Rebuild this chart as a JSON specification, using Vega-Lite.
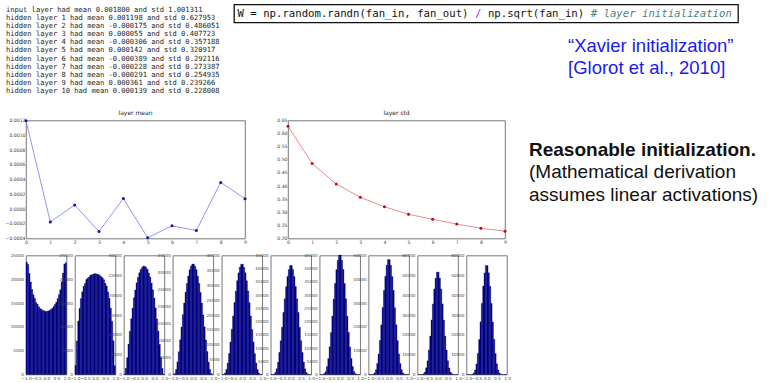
{
"$schema":"https://vega.github.io/schema/vega-lite/v6.json",
"padding":{"left":4,"top":3.5,"right":0,"bottom":0},
"background":"white",
"config":{
 "axis":{"domain":false,"ticks":false,"grid":false,"labelFont":"DejaVu Sans","labelColor":"#444"},
 "view":{"stroke":"#555","strokeWidth":0.8}
},
"datasets":{
 "mono":[
  {"line":1,"text":"input layer had mean 0.001800 and std 1.001311"},
  {"line":2,"text":"hidden layer 1 had mean 0.001198 and std 0.627953"},
  {"line":3,"text":"hidden layer 2 had mean -0.000175 and std 0.486051"},
  {"line":4,"text":"hidden layer 3 had mean 0.000055 and std 0.407723"},
  {"line":5,"text":"hidden layer 4 had mean -0.000306 and std 0.357188"},
  {"line":6,"text":"hidden layer 5 had mean 0.000142 and std 0.320917"},
  {"line":7,"text":"hidden layer 6 had mean -0.000389 and std 0.292116"},
  {"line":8,"text":"hidden layer 7 had mean -0.000228 and std 0.273387"},
  {"line":9,"text":"hidden layer 8 had mean -0.000291 and std 0.254935"},
  {"line":10,"text":"hidden layer 9 had mean 0.000361 and std 0.239266"},
  {"line":11,"text":"hidden layer 10 had mean 0.000139 and std 0.228008"}
 ],
 "code":[
  {"col":0,"text":"W = np.random.randn(fan_in, fan_out)","kind":"code"},
  {"col":37,"text":"/","kind":"operator"},
  {"col":39,"text":"np.sqrt(fan_in)","kind":"code"},
  {"col":55,"text":"# layer initialization","kind":"comment"}
 ],
 "xavier":[
  {"line":1,"text":"“Xavier initialization”"},
  {"line":2,"text":"[Glorot et al., 2010]"}
 ],
 "reason":[
  {"line":1,"text":"Reasonable initialization."},
  {"line":2,"text":"(Mathematical derivation"},
  {"line":3,"text":"assumes linear activations)"}
 ],
 "stats":[
  {"layer_index":0,"mean":0.001198,"std":0.627953},
  {"layer_index":1,"mean":-0.000175,"std":0.486051},
  {"layer_index":2,"mean":0.000055,"std":0.407723},
  {"layer_index":3,"mean":-0.000306,"std":0.357188},
  {"layer_index":4,"mean":0.000142,"std":0.320917},
  {"layer_index":5,"mean":-0.000389,"std":0.292116},
  {"layer_index":6,"mean":-0.000228,"std":0.273387},
  {"layer_index":7,"mean":-0.000291,"std":0.254935},
  {"layer_index":8,"mean":0.000361,"std":0.239266},
  {"layer_index":9,"mean":0.000139,"std":0.228008}
 ],
 "hist":[
{"layer":1,"bin_start":-1,"bin_end":-0.9333,"count":23600},{"layer":1,"bin_start":-0.9333,"bin_end":-0.8667,"count":23150},{"layer":1,"bin_start":-0.8667,"bin_end":-0.8,"count":21250},{"layer":1,"bin_start":-0.8,"bin_end":-0.7333,"count":19450},{"layer":1,"bin_start":-0.7333,"bin_end":-0.6667,"count":17850},{"layer":1,"bin_start":-0.6667,"bin_end":-0.6,"count":16750},{"layer":1,"bin_start":-0.6,"bin_end":-0.5333,"count":16000},{"layer":1,"bin_start":-0.5333,"bin_end":-0.4667,"count":15150},{"layer":1,"bin_start":-0.4667,"bin_end":-0.4,"count":14800},{"layer":1,"bin_start":-0.4,"bin_end":-0.3333,"count":14250},{"layer":1,"bin_start":-0.3333,"bin_end":-0.2667,"count":13850},{"layer":1,"bin_start":-0.2667,"bin_end":-0.2,"count":13700},{"layer":1,"bin_start":-0.2,"bin_end":-0.1333,"count":13450},{"layer":1,"bin_start":-0.1333,"bin_end":-0.0667,"count":13400},{"layer":1,"bin_start":-0.0667,"bin_end":0,"count":13250},{"layer":1,"bin_start":0,"bin_end":0.0667,"count":13300},{"layer":1,"bin_start":0.0667,"bin_end":0.1333,"count":13350},{"layer":1,"bin_start":0.1333,"bin_end":0.2,"count":13500},{"layer":1,"bin_start":0.2,"bin_end":0.2667,"count":13650},{"layer":1,"bin_start":0.2667,"bin_end":0.3333,"count":13900},{"layer":1,"bin_start":0.3333,"bin_end":0.4,"count":14300},{"layer":1,"bin_start":0.4,"bin_end":0.4667,"count":14750},{"layer":1,"bin_start":0.4667,"bin_end":0.5333,"count":15200},{"layer":1,"bin_start":0.5333,"bin_end":0.6,"count":15950},{"layer":1,"bin_start":0.6,"bin_end":0.6667,"count":16800},{"layer":1,"bin_start":0.6667,"bin_end":0.7333,"count":17800},{"layer":1,"bin_start":0.7333,"bin_end":0.8,"count":19500},{"layer":1,"bin_start":0.8,"bin_end":0.8667,"count":21300},{"layer":1,"bin_start":0.8667,"bin_end":0.9333,"count":23200},{"layer":1,"bin_start":0.9333,"bin_end":1,"count":23500},
{"layer":2,"bin_start":-1,"bin_end":-0.9333,"count":1900},{"layer":2,"bin_start":-0.9333,"bin_end":-0.8667,"count":7050},{"layer":2,"bin_start":-0.8667,"bin_end":-0.8,"count":11250},{"layer":2,"bin_start":-0.8,"bin_end":-0.7333,"count":13900},{"layer":2,"bin_start":-0.7333,"bin_end":-0.6667,"count":15950},{"layer":2,"bin_start":-0.6667,"bin_end":-0.6,"count":17400},{"layer":2,"bin_start":-0.6,"bin_end":-0.5333,"count":18550},{"layer":2,"bin_start":-0.5333,"bin_end":-0.4667,"count":19100},{"layer":2,"bin_start":-0.4667,"bin_end":-0.4,"count":19950},{"layer":2,"bin_start":-0.4,"bin_end":-0.3333,"count":20250},{"layer":2,"bin_start":-0.3333,"bin_end":-0.2667,"count":20500},{"layer":2,"bin_start":-0.2667,"bin_end":-0.2,"count":20850},{"layer":2,"bin_start":-0.2,"bin_end":-0.1333,"count":20950},{"layer":2,"bin_start":-0.1333,"bin_end":-0.0667,"count":21050},{"layer":2,"bin_start":-0.0667,"bin_end":0,"count":21200},{"layer":2,"bin_start":0,"bin_end":0.0667,"count":21150},{"layer":2,"bin_start":0.0667,"bin_end":0.1333,"count":21100},{"layer":2,"bin_start":0.1333,"bin_end":0.2,"count":21000},{"layer":2,"bin_start":0.2,"bin_end":0.2667,"count":20800},{"layer":2,"bin_start":0.2667,"bin_end":0.3333,"count":20550},{"layer":2,"bin_start":0.3333,"bin_end":0.4,"count":20300},{"layer":2,"bin_start":0.4,"bin_end":0.4667,"count":19900},{"layer":2,"bin_start":0.4667,"bin_end":0.5333,"count":19150},{"layer":2,"bin_start":0.5333,"bin_end":0.6,"count":18600},{"layer":2,"bin_start":0.6,"bin_end":0.6667,"count":17350},{"layer":2,"bin_start":0.6667,"bin_end":0.7333,"count":16000},{"layer":2,"bin_start":0.7333,"bin_end":0.8,"count":13950},{"layer":2,"bin_start":0.8,"bin_end":0.8667,"count":11200},{"layer":2,"bin_start":0.8667,"bin_end":0.9333,"count":7100},{"layer":2,"bin_start":0.9333,"bin_end":1,"count":1850},
{"layer":3,"bin_start":-1,"bin_end":-0.9333,"count":140},{"layer":3,"bin_start":-0.9333,"bin_end":-0.8667,"count":1600},{"layer":3,"bin_start":-0.8667,"bin_end":-0.8,"count":4250},{"layer":3,"bin_start":-0.8,"bin_end":-0.7333,"count":7650},{"layer":3,"bin_start":-0.7333,"bin_end":-0.6667,"count":10900},{"layer":3,"bin_start":-0.6667,"bin_end":-0.6,"count":14050},{"layer":3,"bin_start":-0.6,"bin_end":-0.5333,"count":16750},{"layer":3,"bin_start":-0.5333,"bin_end":-0.4667,"count":19350},{"layer":3,"bin_start":-0.4667,"bin_end":-0.4,"count":21300},{"layer":3,"bin_start":-0.4,"bin_end":-0.3333,"count":23100},{"layer":3,"bin_start":-0.3333,"bin_end":-0.2667,"count":24500},{"layer":3,"bin_start":-0.2667,"bin_end":-0.2,"count":25650},{"layer":3,"bin_start":-0.2,"bin_end":-0.1333,"count":26450},{"layer":3,"bin_start":-0.1333,"bin_end":-0.0667,"count":26950},{"layer":3,"bin_start":-0.0667,"bin_end":0,"count":27350},{"layer":3,"bin_start":0,"bin_end":0.0667,"count":27300},{"layer":3,"bin_start":0.0667,"bin_end":0.1333,"count":27000},{"layer":3,"bin_start":0.1333,"bin_end":0.2,"count":26500},{"layer":3,"bin_start":0.2,"bin_end":0.2667,"count":25600},{"layer":3,"bin_start":0.2667,"bin_end":0.3333,"count":24550},{"layer":3,"bin_start":0.3333,"bin_end":0.4,"count":23050},{"layer":3,"bin_start":0.4,"bin_end":0.4667,"count":21350},{"layer":3,"bin_start":0.4667,"bin_end":0.5333,"count":19300},{"layer":3,"bin_start":0.5333,"bin_end":0.6,"count":16800},{"layer":3,"bin_start":0.6,"bin_end":0.6667,"count":14000},{"layer":3,"bin_start":0.6667,"bin_end":0.7333,"count":10950},{"layer":3,"bin_start":0.7333,"bin_end":0.8,"count":7600},{"layer":3,"bin_start":0.8,"bin_end":0.8667,"count":4300},{"layer":3,"bin_start":0.8667,"bin_end":0.9333,"count":1550},{"layer":3,"bin_start":0.9333,"bin_end":1,"count":150},
{"layer":4,"bin_start":-1,"bin_end":-0.9333,"count":12},{"layer":4,"bin_start":-0.9333,"bin_end":-0.8667,"count":320},{"layer":4,"bin_start":-0.8667,"bin_end":-0.8,"count":1450},{"layer":4,"bin_start":-0.8,"bin_end":-0.7333,"count":3700},{"layer":4,"bin_start":-0.7333,"bin_end":-0.6667,"count":6700},{"layer":4,"bin_start":-0.6667,"bin_end":-0.6,"count":10200},{"layer":4,"bin_start":-0.6,"bin_end":-0.5333,"count":13950},{"layer":4,"bin_start":-0.5333,"bin_end":-0.4667,"count":17600},{"layer":4,"bin_start":-0.4667,"bin_end":-0.4,"count":21000},{"layer":4,"bin_start":-0.4,"bin_end":-0.3333,"count":24200},{"layer":4,"bin_start":-0.3333,"bin_end":-0.2667,"count":26750},{"layer":4,"bin_start":-0.2667,"bin_end":-0.2,"count":28950},{"layer":4,"bin_start":-0.2,"bin_end":-0.1333,"count":30800},{"layer":4,"bin_start":-0.1333,"bin_end":-0.0667,"count":31900},{"layer":4,"bin_start":-0.0667,"bin_end":0,"count":32450},{"layer":4,"bin_start":0,"bin_end":0.0667,"count":32500},{"layer":4,"bin_start":0.0667,"bin_end":0.1333,"count":31850},{"layer":4,"bin_start":0.1333,"bin_end":0.2,"count":30850},{"layer":4,"bin_start":0.2,"bin_end":0.2667,"count":28900},{"layer":4,"bin_start":0.2667,"bin_end":0.3333,"count":26800},{"layer":4,"bin_start":0.3333,"bin_end":0.4,"count":24150},{"layer":4,"bin_start":0.4,"bin_end":0.4667,"count":21050},{"layer":4,"bin_start":0.4667,"bin_end":0.5333,"count":17550},{"layer":4,"bin_start":0.5333,"bin_end":0.6,"count":14000},{"layer":4,"bin_start":0.6,"bin_end":0.6667,"count":10150},{"layer":4,"bin_start":0.6667,"bin_end":0.7333,"count":6750},{"layer":4,"bin_start":0.7333,"bin_end":0.8,"count":3650},{"layer":4,"bin_start":0.8,"bin_end":0.8667,"count":1500},{"layer":4,"bin_start":0.8667,"bin_end":0.9333,"count":300},{"layer":4,"bin_start":0.9333,"bin_end":1,"count":10},
{"layer":5,"bin_start":-1,"bin_end":-0.9333,"count":2},{"layer":5,"bin_start":-0.9333,"bin_end":-0.8667,"count":60},{"layer":5,"bin_start":-0.8667,"bin_end":-0.8,"count":480},{"layer":5,"bin_start":-0.8,"bin_end":-0.7333,"count":1700},{"layer":5,"bin_start":-0.7333,"bin_end":-0.6667,"count":3850},{"layer":5,"bin_start":-0.6667,"bin_end":-0.6,"count":7050},{"layer":5,"bin_start":-0.6,"bin_end":-0.5333,"count":10900},{"layer":5,"bin_start":-0.5333,"bin_end":-0.4667,"count":15200},{"layer":5,"bin_start":-0.4667,"bin_end":-0.4,"count":19650},{"layer":5,"bin_start":-0.4,"bin_end":-0.3333,"count":24200},{"layer":5,"bin_start":-0.3333,"bin_end":-0.2667,"count":28050},{"layer":5,"bin_start":-0.2667,"bin_end":-0.2,"count":31550},{"layer":5,"bin_start":-0.2,"bin_end":-0.1333,"count":34150},{"layer":5,"bin_start":-0.1333,"bin_end":-0.0667,"count":36100},{"layer":5,"bin_start":-0.0667,"bin_end":0,"count":37050},{"layer":5,"bin_start":0,"bin_end":0.0667,"count":37100},{"layer":5,"bin_start":0.0667,"bin_end":0.1333,"count":36050},{"layer":5,"bin_start":0.1333,"bin_end":0.2,"count":34200},{"layer":5,"bin_start":0.2,"bin_end":0.2667,"count":31500},{"layer":5,"bin_start":0.2667,"bin_end":0.3333,"count":28100},{"layer":5,"bin_start":0.3333,"bin_end":0.4,"count":24150},{"layer":5,"bin_start":0.4,"bin_end":0.4667,"count":19700},{"layer":5,"bin_start":0.4667,"bin_end":0.5333,"count":15150},{"layer":5,"bin_start":0.5333,"bin_end":0.6,"count":10950},{"layer":5,"bin_start":0.6,"bin_end":0.6667,"count":7000},{"layer":5,"bin_start":0.6667,"bin_end":0.7333,"count":3900},{"layer":5,"bin_start":0.7333,"bin_end":0.8,"count":1650},{"layer":5,"bin_start":0.8,"bin_end":0.8667,"count":500},{"layer":5,"bin_start":0.8667,"bin_end":0.9333,"count":50},{"layer":5,"bin_start":0.9333,"bin_end":1,"count":0},
{"layer":6,"bin_start":-1,"bin_end":-0.9333,"count":0},{"layer":6,"bin_start":-0.9333,"bin_end":-0.8667,"count":15},{"layer":6,"bin_start":-0.8667,"bin_end":-0.8,"count":160},{"layer":6,"bin_start":-0.8,"bin_end":-0.7333,"count":720},{"layer":6,"bin_start":-0.7333,"bin_end":-0.6667,"count":2200},{"layer":6,"bin_start":-0.6667,"bin_end":-0.6,"count":4650},{"layer":6,"bin_start":-0.6,"bin_end":-0.5333,"count":8350},{"layer":6,"bin_start":-0.5333,"bin_end":-0.4667,"count":12750},{"layer":6,"bin_start":-0.4667,"bin_end":-0.4,"count":17900},{"layer":6,"bin_start":-0.4,"bin_end":-0.3333,"count":23450},{"layer":6,"bin_start":-0.3333,"bin_end":-0.2667,"count":28650},{"layer":6,"bin_start":-0.2667,"bin_end":-0.2,"count":33200},{"layer":6,"bin_start":-0.2,"bin_end":-0.1333,"count":37050},{"layer":6,"bin_start":-0.1333,"bin_end":-0.0667,"count":39700},{"layer":6,"bin_start":-0.0667,"bin_end":0,"count":41250},{"layer":6,"bin_start":0,"bin_end":0.0667,"count":41200},{"layer":6,"bin_start":0.0667,"bin_end":0.1333,"count":39750},{"layer":6,"bin_start":0.1333,"bin_end":0.2,"count":37000},{"layer":6,"bin_start":0.2,"bin_end":0.2667,"count":33250},{"layer":6,"bin_start":0.2667,"bin_end":0.3333,"count":28600},{"layer":6,"bin_start":0.3333,"bin_end":0.4,"count":23500},{"layer":6,"bin_start":0.4,"bin_end":0.4667,"count":17850},{"layer":6,"bin_start":0.4667,"bin_end":0.5333,"count":12800},{"layer":6,"bin_start":0.5333,"bin_end":0.6,"count":8300},{"layer":6,"bin_start":0.6,"bin_end":0.6667,"count":4700},{"layer":6,"bin_start":0.6667,"bin_end":0.7333,"count":2150},{"layer":6,"bin_start":0.7333,"bin_end":0.8,"count":750},{"layer":6,"bin_start":0.8,"bin_end":0.8667,"count":150},{"layer":6,"bin_start":0.8667,"bin_end":0.9333,"count":20},{"layer":6,"bin_start":0.9333,"bin_end":1,"count":0},
{"layer":7,"bin_start":-1,"bin_end":-0.9333,"count":0},{"layer":7,"bin_start":-0.9333,"bin_end":-0.8667,"count":4},{"layer":7,"bin_start":-0.8667,"bin_end":-0.8,"count":45},{"layer":7,"bin_start":-0.8,"bin_end":-0.7333,"count":360},{"layer":7,"bin_start":-0.7333,"bin_end":-0.6667,"count":1080},{"layer":7,"bin_start":-0.6667,"bin_end":-0.6,"count":3050},{"layer":7,"bin_start":-0.6,"bin_end":-0.5333,"count":6000},{"layer":7,"bin_start":-0.5333,"bin_end":-0.4667,"count":10450},{"layer":7,"bin_start":-0.4667,"bin_end":-0.4,"count":15900},{"layer":7,"bin_start":-0.4,"bin_end":-0.3333,"count":22100},{"layer":7,"bin_start":-0.3333,"bin_end":-0.2667,"count":28550},{"layer":7,"bin_start":-0.2667,"bin_end":-0.2,"count":34450},{"layer":7,"bin_start":-0.2,"bin_end":-0.1333,"count":39650},{"layer":7,"bin_start":-0.1333,"bin_end":-0.0667,"count":43250},{"layer":7,"bin_start":-0.0667,"bin_end":0,"count":45150},{"layer":7,"bin_start":0,"bin_end":0.0667,"count":45200},{"layer":7,"bin_start":0.0667,"bin_end":0.1333,"count":43200},{"layer":7,"bin_start":0.1333,"bin_end":0.2,"count":39700},{"layer":7,"bin_start":0.2,"bin_end":0.2667,"count":34400},{"layer":7,"bin_start":0.2667,"bin_end":0.3333,"count":28600},{"layer":7,"bin_start":0.3333,"bin_end":0.4,"count":22050},{"layer":7,"bin_start":0.4,"bin_end":0.4667,"count":15950},{"layer":7,"bin_start":0.4667,"bin_end":0.5333,"count":10400},{"layer":7,"bin_start":0.5333,"bin_end":0.6,"count":6050},{"layer":7,"bin_start":0.6,"bin_end":0.6667,"count":3000},{"layer":7,"bin_start":0.6667,"bin_end":0.7333,"count":1100},{"layer":7,"bin_start":0.7333,"bin_end":0.8,"count":350},{"layer":7,"bin_start":0.8,"bin_end":0.8667,"count":50},{"layer":7,"bin_start":0.8667,"bin_end":0.9333,"count":5},{"layer":7,"bin_start":0.9333,"bin_end":1,"count":0},
{"layer":8,"bin_start":-1,"bin_end":-0.9333,"count":0},{"layer":8,"bin_start":-0.9333,"bin_end":-0.8667,"count":0},{"layer":8,"bin_start":-0.8667,"bin_end":-0.8,"count":25},{"layer":8,"bin_start":-0.8,"bin_end":-0.7333,"count":140},{"layer":8,"bin_start":-0.7333,"bin_end":-0.6667,"count":660},{"layer":8,"bin_start":-0.6667,"bin_end":-0.6,"count":1950},{"layer":8,"bin_start":-0.6,"bin_end":-0.5333,"count":4650},{"layer":8,"bin_start":-0.5333,"bin_end":-0.4667,"count":8600},{"layer":8,"bin_start":-0.4667,"bin_end":-0.4,"count":14300},{"layer":8,"bin_start":-0.4,"bin_end":-0.3333,"count":20850},{"layer":8,"bin_start":-0.3333,"bin_end":-0.2667,"count":28100},{"layer":8,"bin_start":-0.2667,"bin_end":-0.2,"count":35300},{"layer":8,"bin_start":-0.2,"bin_end":-0.1333,"count":41250},{"layer":8,"bin_start":-0.1333,"bin_end":-0.0667,"count":45900},{"layer":8,"bin_start":-0.0667,"bin_end":0,"count":48300},{"layer":8,"bin_start":0,"bin_end":0.0667,"count":48250},{"layer":8,"bin_start":0.0667,"bin_end":0.1333,"count":45950},{"layer":8,"bin_start":0.1333,"bin_end":0.2,"count":41200},{"layer":8,"bin_start":0.2,"bin_end":0.2667,"count":35350},{"layer":8,"bin_start":0.2667,"bin_end":0.3333,"count":28050},{"layer":8,"bin_start":0.3333,"bin_end":0.4,"count":20900},{"layer":8,"bin_start":0.4,"bin_end":0.4667,"count":14250},{"layer":8,"bin_start":0.4667,"bin_end":0.5333,"count":8650},{"layer":8,"bin_start":0.5333,"bin_end":0.6,"count":4600},{"layer":8,"bin_start":0.6,"bin_end":0.6667,"count":2000},{"layer":8,"bin_start":0.6667,"bin_end":0.7333,"count":650},{"layer":8,"bin_start":0.7333,"bin_end":0.8,"count":150},{"layer":8,"bin_start":0.8,"bin_end":0.8667,"count":20},{"layer":8,"bin_start":0.8667,"bin_end":0.9333,"count":0},{"layer":8,"bin_start":0.9333,"bin_end":1,"count":0},
{"layer":9,"bin_start":-1,"bin_end":-0.9333,"count":0},{"layer":9,"bin_start":-0.9333,"bin_end":-0.8667,"count":0},{"layer":9,"bin_start":-0.8667,"bin_end":-0.8,"count":4},{"layer":9,"bin_start":-0.8,"bin_end":-0.7333,"count":55},{"layer":9,"bin_start":-0.7333,"bin_end":-0.6667,"count":360},{"layer":9,"bin_start":-0.6667,"bin_end":-0.6,"count":1200},{"layer":9,"bin_start":-0.6,"bin_end":-0.5333,"count":3350},{"layer":9,"bin_start":-0.5333,"bin_end":-0.4667,"count":6900},{"layer":9,"bin_start":-0.4667,"bin_end":-0.4,"count":12400},{"layer":9,"bin_start":-0.4,"bin_end":-0.3333,"count":19350},{"layer":9,"bin_start":-0.3333,"bin_end":-0.2667,"count":27500},{"layer":9,"bin_start":-0.2667,"bin_end":-0.2,"count":35550},{"layer":9,"bin_start":-0.2,"bin_end":-0.1333,"count":43150},{"layer":9,"bin_start":-0.1333,"bin_end":-0.0667,"count":48550},{"layer":9,"bin_start":-0.0667,"bin_end":0,"count":51650},{"layer":9,"bin_start":0,"bin_end":0.0667,"count":51600},{"layer":9,"bin_start":0.0667,"bin_end":0.1333,"count":48600},{"layer":9,"bin_start":0.1333,"bin_end":0.2,"count":43100},{"layer":9,"bin_start":0.2,"bin_end":0.2667,"count":35600},{"layer":9,"bin_start":0.2667,"bin_end":0.3333,"count":27450},{"layer":9,"bin_start":0.3333,"bin_end":0.4,"count":19400},{"layer":9,"bin_start":0.4,"bin_end":0.4667,"count":12350},{"layer":9,"bin_start":0.4667,"bin_end":0.5333,"count":6950},{"layer":9,"bin_start":0.5333,"bin_end":0.6,"count":3300},{"layer":9,"bin_start":0.6,"bin_end":0.6667,"count":1250},{"layer":9,"bin_start":0.6667,"bin_end":0.7333,"count":350},{"layer":9,"bin_start":0.7333,"bin_end":0.8,"count":50},{"layer":9,"bin_start":0.8,"bin_end":0.8667,"count":5},{"layer":9,"bin_start":0.8667,"bin_end":0.9333,"count":0},{"layer":9,"bin_start":0.9333,"bin_end":1,"count":0},
{"layer":10,"bin_start":-1,"bin_end":-0.9333,"count":0},{"layer":10,"bin_start":-0.9333,"bin_end":-0.8667,"count":0},{"layer":10,"bin_start":-0.8667,"bin_end":-0.8,"count":0},{"layer":10,"bin_start":-0.8,"bin_end":-0.7333,"count":30},{"layer":10,"bin_start":-0.7333,"bin_end":-0.6667,"count":190},{"layer":10,"bin_start":-0.6667,"bin_end":-0.6,"count":740},{"layer":10,"bin_start":-0.6,"bin_end":-0.5333,"count":2300},{"layer":10,"bin_start":-0.5333,"bin_end":-0.4667,"count":5350},{"layer":10,"bin_start":-0.4667,"bin_end":-0.4,"count":10600},{"layer":10,"bin_start":-0.4,"bin_end":-0.3333,"count":17700},{"layer":10,"bin_start":-0.3333,"bin_end":-0.2667,"count":26550},{"layer":10,"bin_start":-0.2667,"bin_end":-0.2,"count":35800},{"layer":10,"bin_start":-0.2,"bin_end":-0.1333,"count":44600},{"layer":10,"bin_start":-0.1333,"bin_end":-0.0667,"count":51200},{"layer":10,"bin_start":-0.0667,"bin_end":0,"count":55000},{"layer":10,"bin_start":0,"bin_end":0.0667,"count":54950},{"layer":10,"bin_start":0.0667,"bin_end":0.1333,"count":51250},{"layer":10,"bin_start":0.1333,"bin_end":0.2,"count":44550},{"layer":10,"bin_start":0.2,"bin_end":0.2667,"count":35850},{"layer":10,"bin_start":0.2667,"bin_end":0.3333,"count":26500},{"layer":10,"bin_start":0.3333,"bin_end":0.4,"count":17750},{"layer":10,"bin_start":0.4,"bin_end":0.4667,"count":10550},{"layer":10,"bin_start":0.4667,"bin_end":0.5333,"count":5400},{"layer":10,"bin_start":0.5333,"bin_end":0.6,"count":2250},{"layer":10,"bin_start":0.6,"bin_end":0.6667,"count":750},{"layer":10,"bin_start":0.6667,"bin_end":0.7333,"count":200},{"layer":10,"bin_start":0.7333,"bin_end":0.8,"count":25},{"layer":10,"bin_start":0.8,"bin_end":0.8667,"count":0},{"layer":10,"bin_start":0.8667,"bin_end":0.9333,"count":0},{"layer":10,"bin_start":0.9333,"bin_end":1,"count":0}
 ]
},
"spacing":8,
"bounds":"full",
"vconcat":[
 {
  "hconcat":[
   {
    "width":200,"height":96,
    "data":{"name":"mono"},
    "view":{"stroke":null},
    "mark":{"type":"text","align":"left","baseline":"middle","font":"DejaVu Sans Mono","fontSize":7.1,"color":"#1a1a1a","dx":-20},
    "encoding":{
     "x":{"value":0},
     "y":{"field":"line","type":"quantitative","scale":{"domain":[0.388,12.138],"reverse":true,"nice":false,"zero":false},"axis":null},
     "text":{"field":"text"}
    }
   },
   {
    "vconcat":[
     {
      "width":504,"height":18,
      "data":{"name":"code"},
      "view":{"stroke":"#111","strokeWidth":1.3},
      "layer":[
       {
        "transform":[{"filter":"datum.kind != 'comment'"}],
        "mark":{"type":"text","align":"left","baseline":"middle","font":"DejaVu Sans Mono","fontSize":10.66}
       },
       {
        "transform":[{"filter":"datum.kind == 'comment'"}],
        "mark":{"type":"text","align":"left","baseline":"middle","font":"DejaVu Sans Mono","fontSize":10.66,"fontStyle":"italic"}
       }
      ],
      "encoding":{
       "x":{"field":"col","type":"quantitative","scale":{"domain":[-0.55,77.95],"nice":false,"zero":false},"axis":null},
       "text":{"field":"text"},
       "color":{"field":"kind","type":"nominal","scale":{"domain":["code","operator","comment"],"range":["#111111","#aa22ff","#4f7f7f"]},"legend":null}
      }
     },
     {
      "hconcat":[
       {"width":1,"height":1,"data":{"values":[]},"view":{"stroke":null},"mark":"point"},
       {
        "width":180,"height":50,
        "data":{"name":"xavier"},
        "view":{"stroke":null},
        "mark":{"type":"text","align":"left","baseline":"middle","font":"Liberation Sans","fontSize":18.5,"color":"#1a1af0"},
        "encoding":{
         "x":{"value":0},
         "y":{"field":"line","type":"quantitative","scale":{"domain":[0.182,2.455],"reverse":true,"nice":false,"zero":false},"axis":null},
         "text":{"field":"text"}
        }
       }
      ],
      "spacing":333,
      "bounds":"flush"
     }
    ],
    "spacing":6,
    "bounds":"flush"
   }
  ],
  "spacing":8,
  "bounds":"flush"
 },
 {
  "hconcat":[
   {
    "hconcat":[
     {
      "width":219,"height":118,
      "data":{"name":"stats"},
      "title":{"text":"layer mean","fontSize":6,"fontWeight":"normal","font":"DejaVu Sans","color":"#222","offset":2,"anchor":"middle"},
      "encoding":{
       "x":{"field":"layer_index","type":"quantitative","title":null,"scale":{"domain":[0,9],"nice":false},"axis":{"values":[0,1,2,3,4,5,6,7,8,9],"format":"d","labelFontSize":4.6,"labelPadding":1,"labelFlush":false,"labelOverlap":false}},
       "y":{"field":"mean","type":"quantitative","title":null,"scale":{"domain":[-0.0004,0.0012],"nice":false,"zero":false},"axis":{"values":[-0.0004,-0.0002,0,0.0002,0.0004,0.0006,0.0008,0.001,0.0012],"format":".4f","labelFontSize":4.6,"labelPadding":1,"labelFlush":false,"labelOverlap":false}}
      },
      "layer":[
       {"mark":{"type":"line","color":"#7878f0","strokeWidth":0.8}},
       {"mark":{"type":"point","filled":true,"color":"#1212b0","size":9,"opacity":1}}
      ]
     },
     {
      "width":217,"height":118,
      "data":{"name":"stats"},
      "title":{"text":"layer std","fontSize":6,"fontWeight":"normal","font":"DejaVu Sans","color":"#222","offset":2,"anchor":"middle"},
      "encoding":{
       "x":{"field":"layer_index","type":"quantitative","title":null,"scale":{"domain":[0,9],"nice":false},"axis":{"values":[0,1,2,3,4,5,6,7,8,9],"format":"d","labelFontSize":4.6,"labelPadding":1,"labelFlush":false,"labelOverlap":false}},
       "y":{"field":"std","type":"quantitative","title":null,"scale":{"domain":[0.2,0.65],"nice":false,"zero":false},"axis":{"values":[0.2,0.25,0.3,0.35,0.4,0.45,0.5,0.55,0.6,0.65],"format":".2f","labelFontSize":4.6,"labelPadding":1,"labelFlush":false,"labelOverlap":false}}
      },
      "layer":[
       {"mark":{"type":"line","color":"#e07070","strokeWidth":0.8}},
       {"mark":{"type":"point","filled":true,"color":"#b81010","size":9,"opacity":1}}
      ]
     }
    ],
    "spacing":43,
    "bounds":"flush"
   },
   {
    "width":240,"height":100,
    "data":{"name":"reason"},
    "view":{"stroke":null},
    "encoding":{
     "x":{"value":0},
     "y":{"field":"line","type":"quantitative","scale":{"domain":[-0.278,4.127],"reverse":true,"nice":false,"zero":false},"axis":null},
     "text":{"field":"text"}
    },
    "layer":[
     {"transform":[{"filter":"datum.line == 1"}],"mark":{"type":"text","align":"left","baseline":"middle","font":"Liberation Sans","fontSize":19,"fontWeight":"bold","color":"#111"}},
     {"transform":[{"filter":"datum.line > 1"}],"mark":{"type":"text","align":"left","baseline":"middle","font":"Liberation Sans","fontSize":19,"color":"#111"}}
    ]
   }
  ],
  "spacing":22,
  "bounds":"full"
 },
 {
  "data":{"name":"hist"},
  "hconcat":[
   {"width":40.5,"height":119,"transform":[{"filter":"datum.layer == 1"}],"mark":{"type":"bar","fill":"#0000b0","stroke":"#000022","strokeWidth":0.3},"encoding":{"x":{"field":"bin_start","type":"quantitative","title":null,"scale":{"domain":[-1,1],"nice":false,"zero":false},"axis":{"values":[-1,-0.5,0,0.5,1],"format":".1f","labelFontSize":4.2,"labelPadding":1.5,"labelFlush":false,"labelOverlap":false}},"x2":{"field":"bin_end"},"y":{"field":"count","type":"quantitative","title":null,"scale":{"domain":[0,25000],"nice":false},"axis":{"values":[0,5000,10000,15000,20000,25000],"format":"d","labelFontSize":4.2,"labelPadding":2.5,"labelFlush":false,"labelOverlap":false}},"y2":{"datum":0}}},
   {"width":40.5,"height":119,"transform":[{"filter":"datum.layer == 2"}],"mark":{"type":"bar","fill":"#0000b0","stroke":"#000022","strokeWidth":0.3},"encoding":{"x":{"field":"bin_start","type":"quantitative","title":null,"scale":{"domain":[-1,1],"nice":false,"zero":false},"axis":{"values":[-1,-0.5,0,0.5,1],"format":".1f","labelFontSize":4.2,"labelPadding":1.5,"labelFlush":false,"labelOverlap":false}},"x2":{"field":"bin_end"},"y":{"field":"count","type":"quantitative","title":null,"scale":{"domain":[0,25000],"nice":false},"axis":{"values":[0,5000,10000,15000,20000,25000],"format":"d","labelFontSize":4.2,"labelPadding":2.5,"labelFlush":false,"labelOverlap":false}},"y2":{"datum":0}}},
   {"width":40.5,"height":119,"transform":[{"filter":"datum.layer == 3"}],"mark":{"type":"bar","fill":"#0000b0","stroke":"#000022","strokeWidth":0.3},"encoding":{"x":{"field":"bin_start","type":"quantitative","title":null,"scale":{"domain":[-1,1],"nice":false,"zero":false},"axis":{"values":[-1,-0.5,0,0.5,1],"format":".1f","labelFontSize":4.2,"labelPadding":1.5,"labelFlush":false,"labelOverlap":false}},"x2":{"field":"bin_end"},"y":{"field":"count","type":"quantitative","title":null,"scale":{"domain":[0,30000],"nice":false},"axis":{"values":[0,5000,10000,15000,20000,25000,30000],"format":"d","labelFontSize":4.2,"labelPadding":2.5,"labelFlush":false,"labelOverlap":false}},"y2":{"datum":0}}},
   {"width":40.5,"height":119,"transform":[{"filter":"datum.layer == 4"}],"mark":{"type":"bar","fill":"#0000b0","stroke":"#000022","strokeWidth":0.3},"encoding":{"x":{"field":"bin_start","type":"quantitative","title":null,"scale":{"domain":[-1,1],"nice":false,"zero":false},"axis":{"values":[-1,-0.5,0,0.5,1],"format":".1f","labelFontSize":4.2,"labelPadding":1.5,"labelFlush":false,"labelOverlap":false}},"x2":{"field":"bin_end"},"y":{"field":"count","type":"quantitative","title":null,"scale":{"domain":[0,35000],"nice":false},"axis":{"values":[0,5000,10000,15000,20000,25000,30000,35000],"format":"d","labelFontSize":4.2,"labelPadding":2.5,"labelFlush":false,"labelOverlap":false}},"y2":{"datum":0}}},
   {"width":40.5,"height":119,"transform":[{"filter":"datum.layer == 5"}],"mark":{"type":"bar","fill":"#0000b0","stroke":"#000022","strokeWidth":0.3},"encoding":{"x":{"field":"bin_start","type":"quantitative","title":null,"scale":{"domain":[-1,1],"nice":false,"zero":false},"axis":{"values":[-1,-0.5,0,0.5,1],"format":".1f","labelFontSize":4.2,"labelPadding":1.5,"labelFlush":false,"labelOverlap":false}},"x2":{"field":"bin_end"},"y":{"field":"count","type":"quantitative","title":null,"scale":{"domain":[0,40000],"nice":false},"axis":{"values":[0,5000,10000,15000,20000,25000,30000,35000,40000],"format":"d","labelFontSize":4.2,"labelPadding":2.5,"labelFlush":false,"labelOverlap":false}},"y2":{"datum":0}}},
   {"width":40.5,"height":119,"transform":[{"filter":"datum.layer == 6"}],"mark":{"type":"bar","fill":"#0000b0","stroke":"#000022","strokeWidth":0.3},"encoding":{"x":{"field":"bin_start","type":"quantitative","title":null,"scale":{"domain":[-1,1],"nice":false,"zero":false},"axis":{"values":[-1,-0.5,0,0.5,1],"format":".1f","labelFontSize":4.2,"labelPadding":1.5,"labelFlush":false,"labelOverlap":false}},"x2":{"field":"bin_end"},"y":{"field":"count","type":"quantitative","title":null,"scale":{"domain":[0,45000],"nice":false},"axis":{"values":[0,5000,10000,15000,20000,25000,30000,35000,40000,45000],"format":"d","labelFontSize":4.2,"labelPadding":2.5,"labelFlush":false,"labelOverlap":false}},"y2":{"datum":0}}},
   {"width":40.5,"height":119,"transform":[{"filter":"datum.layer == 7"}],"mark":{"type":"bar","fill":"#0000b0","stroke":"#000022","strokeWidth":0.3},"encoding":{"x":{"field":"bin_start","type":"quantitative","title":null,"scale":{"domain":[-1,1],"nice":false,"zero":false},"axis":{"values":[-1,-0.5,0,0.5,1],"format":".1f","labelFontSize":4.2,"labelPadding":1.5,"labelFlush":false,"labelOverlap":false}},"x2":{"field":"bin_end"},"y":{"field":"count","type":"quantitative","title":null,"scale":{"domain":[0,45000],"nice":false},"axis":{"values":[0,5000,10000,15000,20000,25000,30000,35000,40000,45000],"format":"d","labelFontSize":4.2,"labelPadding":2.5,"labelFlush":false,"labelOverlap":false}},"y2":{"datum":0}}},
   {"width":40.5,"height":119,"transform":[{"filter":"datum.layer == 8"}],"mark":{"type":"bar","fill":"#0000b0","stroke":"#000022","strokeWidth":0.3},"encoding":{"x":{"field":"bin_start","type":"quantitative","title":null,"scale":{"domain":[-1,1],"nice":false,"zero":false},"axis":{"values":[-1,-0.5,0,0.5,1],"format":".1f","labelFontSize":4.2,"labelPadding":1.5,"labelFlush":false,"labelOverlap":false}},"x2":{"field":"bin_end"},"y":{"field":"count","type":"quantitative","title":null,"scale":{"domain":[0,50000],"nice":false},"axis":{"values":[0,10000,20000,30000,40000,50000],"format":"d","labelFontSize":4.2,"labelPadding":2.5,"labelFlush":false,"labelOverlap":false}},"y2":{"datum":0}}},
   {"width":40.5,"height":119,"transform":[{"filter":"datum.layer == 9"}],"mark":{"type":"bar","fill":"#0000b0","stroke":"#000022","strokeWidth":0.3},"encoding":{"x":{"field":"bin_start","type":"quantitative","title":null,"scale":{"domain":[-1,1],"nice":false,"zero":false},"axis":{"values":[-1,-0.5,0,0.5,1],"format":".1f","labelFontSize":4.2,"labelPadding":1.5,"labelFlush":false,"labelOverlap":false}},"x2":{"field":"bin_end"},"y":{"field":"count","type":"quantitative","title":null,"scale":{"domain":[0,60000],"nice":false},"axis":{"values":[0,10000,20000,30000,40000,50000,60000],"format":"d","labelFontSize":4.2,"labelPadding":2.5,"labelFlush":false,"labelOverlap":false}},"y2":{"datum":0}}},
   {"width":40.5,"height":119,"transform":[{"filter":"datum.layer == 10"}],"mark":{"type":"bar","fill":"#0000b0","stroke":"#000022","strokeWidth":0.3},"encoding":{"x":{"field":"bin_start","type":"quantitative","title":null,"scale":{"domain":[-1,1],"nice":false,"zero":false},"axis":{"values":[-1,-0.5,0,0.5,1],"format":".1f","labelFontSize":4.2,"labelPadding":1.5,"labelFlush":false,"labelOverlap":false}},"x2":{"field":"bin_end"},"y":{"field":"count","type":"quantitative","title":null,"scale":{"domain":[0,60000],"nice":false},"axis":{"values":[0,10000,20000,30000,40000,50000,60000],"format":"d","labelFontSize":4.2,"labelPadding":2.5,"labelFlush":false,"labelOverlap":false}},"y2":{"datum":0}}}
  ],
  "spacing":7.94,
  "bounds":"flush"
 }
]
}
